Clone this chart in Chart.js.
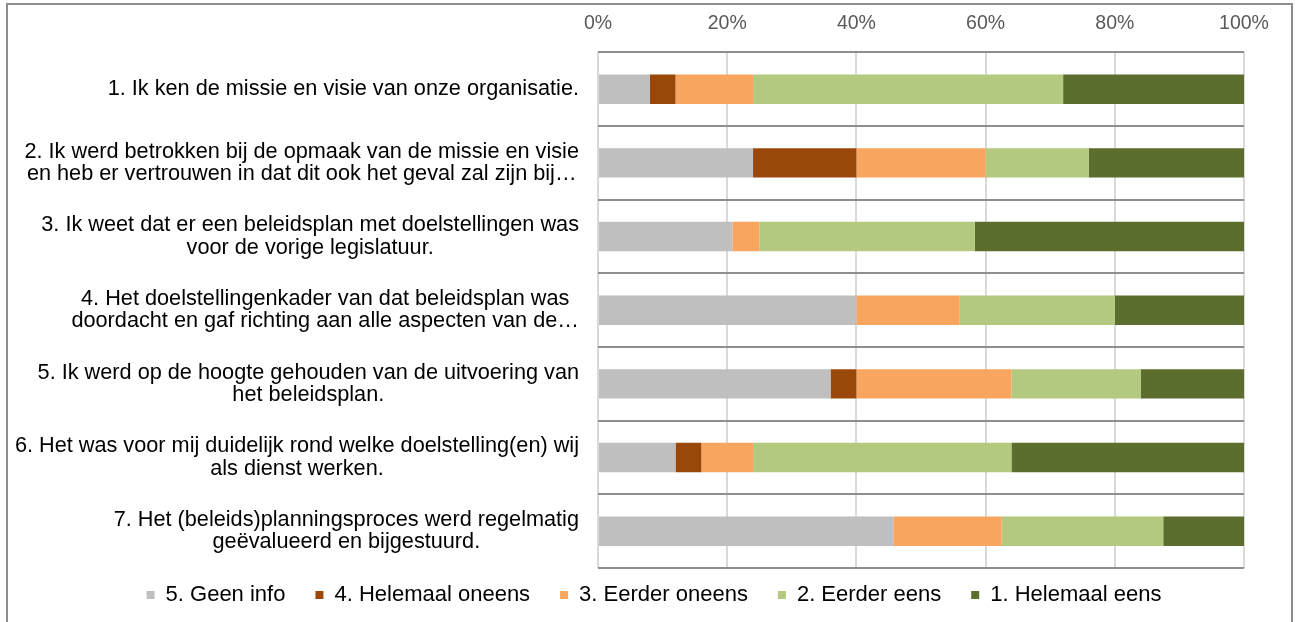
<!DOCTYPE html>
<html>
<head>
<meta charset="utf-8">
<script src="https://cdn.jsdelivr.net/npm/chart.js@4/dist/chart.umd.min.js"></script>
<style>
  html, body { margin: 0; padding: 0; background: #fff; overflow: hidden; }
  #wrap { position: relative; width: 1298px; height: 622px; }
  #frame { position: absolute; left: 6px; top: 3px; width: 1287px; height: 640px;
           box-sizing: border-box; border: 2px solid #8c8c8c; pointer-events: none; }
  canvas { position: absolute; left: 0; top: 0; }
</style>
</head>
<body>
<div id="wrap">
  <canvas id="surveyChart" width="1298" height="622"></canvas>
  <div id="frame"></div>
</div>
<script>
// Statements (each one split on the lines as they appear)
const questions = [
  ['1. Ik ken de missie en visie van onze organisatie.'],
  ['2. Ik werd betrokken bij de opmaak van de missie en visie', 'en heb er vertrouwen in dat dit ook het geval zal zijn bij…'],
  ['3. Ik weet dat er een beleidsplan met doelstellingen was', 'voor de vorige legislatuur.'],
  ['4. Het doelstellingenkader van dat beleidsplan was', 'doordacht en gaf richting aan alle aspecten van de…'],
  ['5. Ik werd op de hoogte gehouden van de uitvoering van', 'het beleidsplan.'],
  ['6. Het was voor mij duidelijk rond welke doelstelling(en) wij', 'als dienst werken.'],
  ['7. Het (beleids)planningsproces werd regelmatig', 'geëvalueerd en bijgestuurd.']
];

// Answer shares in %
const geenInfo       = [8, 24, 20.8, 40, 36, 12, 45.8];
const helemaalOneens = [4, 16, 0, 0, 4, 4, 0];
const eerderOneens   = [12, 20, 4.2, 16, 24, 8, 16.7];
const eerderEens     = [48, 16, 33.3, 24, 20, 40, 25];
const helemaalEens   = [28, 24, 41.7, 20, 16, 36, 12.5];

const answerLabels = ['5. Geen info', '4. Helemaal oneens', '3. Eerder oneens', '2. Eerder eens', '1. Helemaal eens'];
const answerColors = ['#bfbfbf', '#9a4809', '#f7a55f', '#b2c97f', '#5b6e2e'];
const percentTicks = [0, 20, 40, 60, 80, 100];

const FONT = '"Liberation Sans", Arial, sans-serif';

// Category labels: block right aligned, lines centred in the block (like Excel)
const questionLabels = {
  id: 'questionLabels',
  afterDraw(chart) {
    const scale = chart.scales.y;
    const ctx = chart.ctx;
    const lineHeight = 22.5;
    ctx.save();
    ctx.font = '21.7px ' + FONT;
    ctx.fillStyle = '#000';
    ctx.textAlign = 'center';
    ctx.textBaseline = 'middle';
    questions.forEach((lines, i) => {
      const widest = Math.max(...lines.map(l => ctx.measureText(l).width));
      const cx = scale.right - 19 - widest / 2;
      const cy = scale.getPixelForTick(i);
      lines.forEach((line, j) => {
        ctx.fillText(line, cx, cy + (j - (lines.length - 1) / 2) * lineHeight);
      });
    });
    ctx.restore();
  }
};

// legend sits a bit higher and is centred on the whole frame
const legendSpacing = {
  id: 'legendSpacing',
  beforeInit(chart) {
    const legend = chart.legend;
    const fit = legend.fit;
    legend.fit = function () {
      fit.call(this);
      this.height = 54;
    };
  },
  afterLayout(chart) {
    const legend = chart.legend;
    legend.top -= 14;
    legend.bottom -= 14;
    legend.left += 32;
    legend.right += 32;
  }
};

const datasets = [geenInfo, helemaalOneens, eerderOneens, eerderEens, helemaalEens].map((values, i) => ({
  label: answerLabels[i],
  data: values,
  backgroundColor: answerColors[i],
  borderWidth: 0,
  barPercentage: 0.4,
  categoryPercentage: 1
}));

new Chart(document.getElementById('surveyChart'), {
  type: 'bar',
  data: {
    labels: questions.map(q => q.join(' ')),
    datasets: datasets
  },
  options: {
    indexAxis: 'y',
    responsive: false,
    animation: false,
    layout: { padding: { top: -5, right: 54, left: 0, bottom: 0 } },
    plugins: {
      tooltip: { enabled: false },
      legend: {
        position: 'bottom',
        labels: {
          boxWidth: 8,
          boxHeight: 8,
          padding: 30,
          color: '#000',
          font: { family: FONT, size: 22 }
        }
      }
    },
    scales: {
      x: {
        position: 'top',
        stacked: true,
        min: 0,
        max: 100,
        afterBuildTicks(scale) {
          scale.ticks = percentTicks.map(v => ({ value: v }));
        },
        ticks: {
          callback: v => v + '%',
          color: '#595959',
          font: { family: FONT, size: 19.5 },
          padding: 17
        },
        grid: { color: '#d9d9d9', lineWidth: 2, drawTicks: false },
        border: { display: false }
      },
      y: {
        stacked: true,
        afterFit(scale) { scale.width = 598; },
        ticks: { display: false },
        grid: { offset: true, color: '#8e8e8e', lineWidth: 2, drawTicks: false },
        border: { display: false }
      }
    }
  },
  plugins: [questionLabels, legendSpacing]
});
</script>
</body>
</html>
